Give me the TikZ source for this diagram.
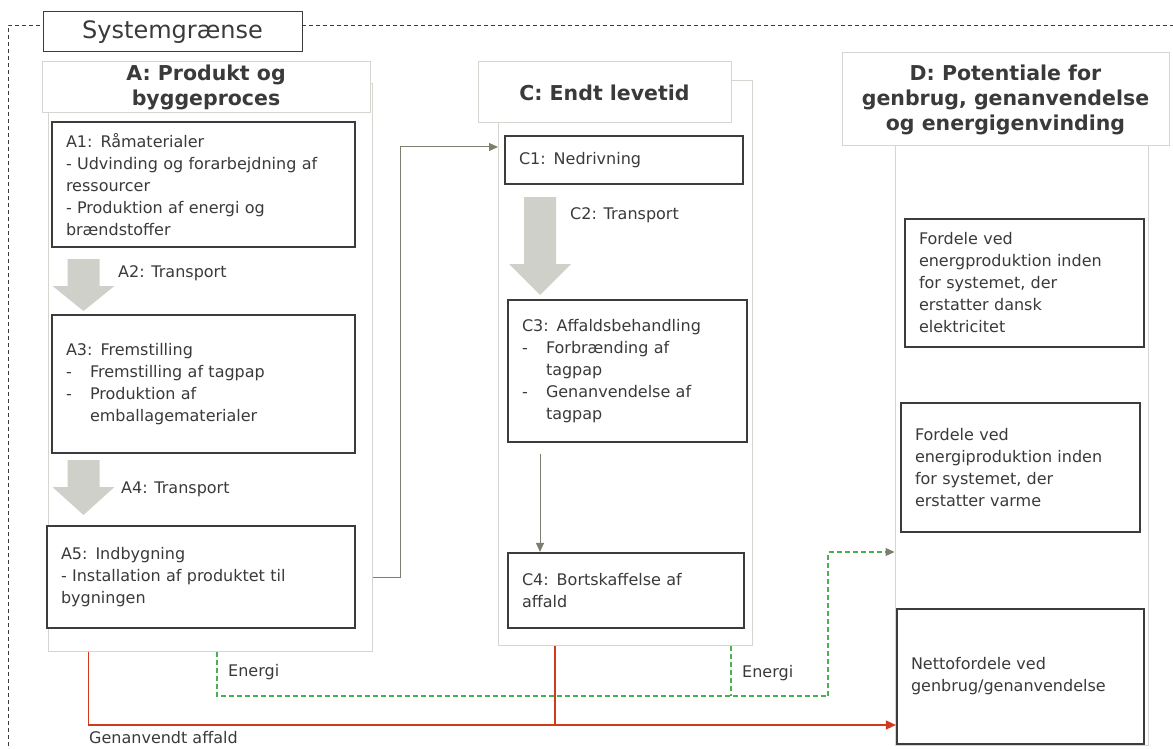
\documentclass[tikz,border=0pt]{standalone}
\usepackage{fontspec}
\setmainfont{DejaVu Sans}
\usetikzlibrary{arrows.meta}
\definecolor{boxline}{HTML}{3C3C3C}
\definecolor{colline}{HTML}{D6D6D0}
\definecolor{arrowfill}{HTML}{D0D0CA}
\definecolor{flowgray}{HTML}{7E7E6E}
\definecolor{energygreen}{HTML}{4CB050}
\definecolor{wastered}{HTML}{D23A1E}
\definecolor{txt}{HTML}{3A3A3A}
\newcommand{\transportarrow}[4]{% centre x, top, neck, tip
  \fill[arrowfill] (#1-16,#2) -- (#1+16,#2) -- (#1+16,#3) -- (#1+31,#3) -- (#1,#4) -- (#1-31,#3) -- (#1-16,#3) -- cycle;}
\newcommand{\dash}{\makebox[24pt][l]{-}}
\newcommand{\hang}{\hspace*{24pt}}
\tikzset{
    column/.style={draw=colline, line width=1pt}, % light frame round each stage
    heading/.style={draw=colline, line width=1pt, fill=white, align=center, text=txt, font=\fontsize{20.5}{25}\selectfont\bfseries}, % stage titles
    stagebox/.style={draw=boxline, line width=2.2pt, fill=white, align=left, inner xsep=14pt, inner ysep=0pt, text=txt, font=\fontsize{16}{22}\selectfont}, % module boxes
    steplabel/.style={anchor=west, inner sep=0pt, text=txt, font=\fontsize{16}{20}\selectfont}, % loose labels
    boundary/.style={draw=boxline, line width=0.9pt, dash pattern=on 4pt off 3pt}, % system boundary
    flow/.style={draw=flowgray, line width=1pt, -{Triangle[length=9pt,width=8pt]}}, % grey connectors
    energy/.style={draw=energygreen, line width=1.2pt, dash pattern=on 5pt off 3pt}, % energy flow
    waste/.style={draw=wastered, line width=1.2pt}, % recycled waste
}
\begin{document}
\begin{tikzpicture}[x=1pt, y=-1pt]
    \useasboundingbox (0,0) rectangle (1173,749);
    % system boundary
    \draw[boundary] (8,760) -- (8,25) -- (1185,25);
    \node[draw=boxline, line width=1pt, fill=white, minimum width=259pt, minimum height=40pt, text=txt, font=\fontsize{24}{28}\selectfont] (sys) at (172.5,32) {Systemgrænse};

    % stage frames
    \node[column, minimum width=324pt, minimum height=567pt] (Acol) at (210,367.5) {};
    \node[column, minimum width=254pt, minimum height=564pt] (Ccol) at (625,363) {};
    \node[column, minimum width=253pt, minimum height=599pt] (Dcol) at (1021.5,445.5) {};
    \node[heading, minimum width=328pt, minimum height=50pt] (Atitle) at (206,87) {A: Produkt og\\byggeproces};
    \node[heading, minimum width=253pt, minimum height=61pt] (Ctitle) at (604.5,92.5) {C: Endt levetid};
    \node[heading, minimum width=327pt, minimum height=93pt] (Dtitle) at (1005.5,99.5) {D: Potentiale for\\genbrug, genanvendelse\\og energigenvinding};

    % A modules
    \node[stagebox, text width=275pt, minimum height=125pt] (A1) at (203.5,184.5) {A1: Råmaterialer\\- Udvinding og forarbejdning af\\ressourcer\\- Produktion af energi og\\brændstoffer};
    \node[stagebox, text width=275pt, minimum height=138pt] (A3) at (203.5,384) {A3: Fremstilling\\\dash Fremstilling af tagpap\\\dash Produktion af\\\hang emballagematerialer};
    \node[stagebox, text width=280pt, minimum height=102pt] (A5) at (201,577) {A5: Indbygning\\- Installation af produktet til\\bygningen};
    \transportarrow{83.5}{259}{286}{311}
    \transportarrow{83.5}{460}{487}{515}
    \node[steplabel] (A2) at (118,273) {A2: Transport};
    \node[steplabel] (A4) at (121,489) {A4: Transport};

    % C modules
    \node[stagebox, text width=210pt, minimum height=48pt] (C1) at (624,160) {C1: Nedrivning};
    \node[stagebox, text width=211pt, minimum height=142pt] (C3) at (627.5,371) {C3: Affaldsbehandling\\\dash Forbrænding af\\\hang tagpap\\\dash Genanvendelse af\\\hang tagpap};
    \node[stagebox, text width=208pt, minimum height=75pt] (C4) at (626,590.5) {C4: Bortskaffelse af\\affald};
    \transportarrow{540}{197}{264}{295}
    \node[steplabel] (C2) at (570,215) {C2: Transport};

    % D modules
    \node[stagebox, text width=211pt, minimum height=128pt] (D1) at (1024.5,283) {Fordele ved\\energproduktion inden\\for systemet, der\\erstatter dansk\\elektricitet};
    \node[stagebox, text width=211pt, minimum height=129pt] (D2) at (1020.5,467.5) {Fordele ved\\energiproduktion inden\\for systemet, der\\erstatter varme};
    \node[stagebox, text width=219pt, minimum height=135pt] (D3) at (1020.5,676.5) {Nettofordele ved\\genbrug/genanvendelse};

    % connectors
    \coordinate (c1in) at (498,147);
    \coordinate (c3out) at (540,454);
    \draw[flow] (Acol.east |- A5.east) -- ++(28,0) |- (c1in);
    \draw[flow] (c3out) -- (c3out |- C4.north);

    \coordinate (eC) at ([xshift=106pt]Ccol.south);
    \coordinate (eJ) at (828,696);
    \coordinate (dIn) at (Dcol.west |- 0,552);
    \draw[energy, -{Triangle[length=9pt,width=8pt,color=flowgray]}] ([xshift=7pt]Acol.south) |- (eJ) |- (dIn);
    \draw[energy] (eC) -- (eC |- eJ);
    \node[steplabel] (eAtext) at (228,672) {Energi};
    \node[steplabel] (eCtext) at (742,673) {Energi};

    \coordinate (wC) at ([xshift=-70pt]Ccol.south);
    \coordinate (wJ) at (555,725);
    \draw[waste, -{Triangle[length=10pt,width=9pt]}] ([xshift=41pt]Acol.south west) |- (D3.west |- wJ);
    \draw[waste] (wC) -- (wJ);
    \node[steplabel, anchor=north west] (wtext) at (89,731) {Genanvendt affald};
\end{tikzpicture}
\end{document}
